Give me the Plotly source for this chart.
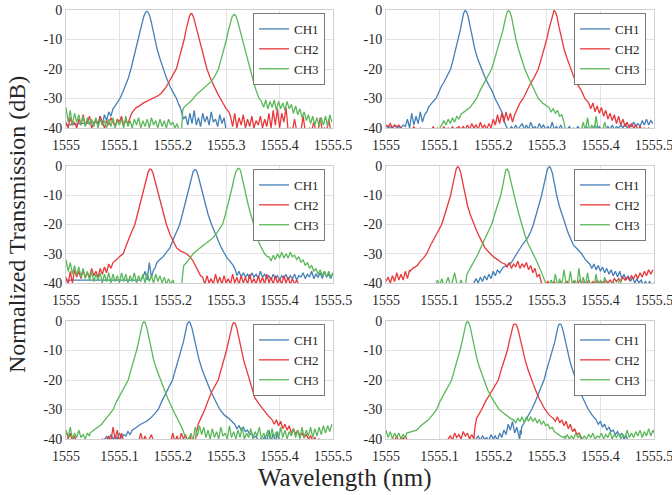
import plotly.graph_objects as go

# ---------------- data (wavelength offsets from 1555 nm, transmission in dB) ----------------
BASE_WL = 1555.0
NOISE_STEP = 0.004          # sampling step of the noisy floor readings
CHANNELS = ["CH1", "CH2", "CH3"]
X_TICKS = [1555.0, 1555.1, 1555.2, 1555.3, 1555.4, 1555.5]
X_TICK_TEXT = ["1555", "1555.1", "1555.2", "1555.3", "1555.4", "1555.5"]
Y_TICKS = [0, -10, -20, -30, -40]
Y_TICK_TEXT = ["0", "-10", "-20", "-30", "-40"]

# ---- panel 1 (top left) ----
P1_CH1_KNOTS = [(0.000, -39), (0.030, -38.5), (0.056, -38), (0.088, -33.5), (0.092, -32.5), (0.096, -31.5),
                (0.101, -30), (0.106, -28), (0.111, -26), (0.116, -23.5), (0.1216, -20), (0.126, -17), (0.130, -14),
                (0.135, -10), (0.139, -7), (0.143, -4), (0.146, -2), (0.149, -0.8), (0.151, -0.5), (0.153, -0.6),
                (0.156, -1.5), (0.159, -3.5), (0.1625, -6.5), (0.1665, -10), (0.171, -13.5), (0.176, -16.5),
                (0.182, -20), (0.188, -23), (0.195, -26), (0.201, -28), (0.207, -30), (0.211, -32), (0.214, -33),
                (0.217, -35), (0.220, -37), (0.300, -41), (0.500, -41)]
P1_CH1_NOISE = [(0.060, [-38.5, -36, -39, -35.5, -37.5, -34.5, -36]),
                (0.224, [-36, -39, -35, -38.5, -34, -39, -36.5, -39.5, -35, -38, -36, -39, -34.5, -38, -37,
                         -39.5, -35.5, -38.5, -36.5])]
P1_CH2_KNOTS = [(0.120, -36.5), (0.123, -35), (0.127, -34), (0.132, -33), (0.138, -32.5), (0.145, -31.5),
                (0.151, -31), (0.157, -30.5), (0.163, -30), (0.168, -29.5), (0.173, -29), (0.178, -28.3),
                (0.183, -27.3), (0.187, -26.2), (0.191, -25), (0.195, -23.8), (0.199, -22.6), (0.203, -21.3),
                (0.207, -19.8), (0.211, -17), (0.2155, -14), (0.2213, -10), (0.2245, -7), (0.228, -4), (0.231, -2.2),
                (0.2338, -1.2), (0.236, -1.3), (0.239, -2.5), (0.242, -4.5), (0.2455, -7), (0.2494, -10),
                (0.2535, -13), (0.258, -16), (0.264, -20), (0.270, -23), (0.277, -26), (0.283, -28), (0.289, -30),
                (0.295, -32), (0.300, -33.5), (0.305, -34.5)]
P1_CH2_NOISE = [(0.000, [-38, -40, -36.5, -39, -38, -40, -37, -39, -35.5, -39, -38, -36, -40, -38.5, -37, -39, -36,
                         -38, -40, -37.5, -39, -36.5, -38, -39.5, -37, -38, -36, -39, -37.5, -38.5]),
                (0.308, [-36, -39.5, -35, -40, -36.5, -39, -35.5, -40, -37, -39.5, -36, -40, -37.5, -39, -36, -40,
                         -37, -39.5, -35, -40, -34, -39, -33.5, -40, -35, -38, -33]),
                (0.416, [-41, -40, -41, -37, -41, -40.5, -41, -36, -41, -41, -40, -41, -38, -41, -41, -36.5, -41,
                         -40, -41, -37, -41, -41])]
P1_CH3_KNOTS = [(0.2165, -41), (0.2185, -34), (0.221, -33), (0.225, -32.3), (0.230, -31.5), (0.236, -30.5),
                (0.244, -28.7), (0.252, -27.5), (0.260, -26.3), (0.266, -25.3), (0.272, -24.2), (0.278, -22.7),
                (0.2855, -20), (0.290, -17), (0.2955, -13.5), (0.3005, -10), (0.304, -7), (0.308, -4), (0.311, -2.3),
                (0.3148, -1.5), (0.318, -1.9), (0.321, -3.5), (0.3245, -6), (0.330, -10), (0.335, -13.5),
                (0.340, -17), (0.345, -20), (0.350, -23.5), (0.3555, -27), (0.3616, -30), (0.366, -31)]
P1_CH3_NOISE = [(0.000, [-33, -38, -34, -39, -35, -38, -35.5, -39, -36, -39.5, -36.5, -39, -37, -39.5, -36.5, -40,
                         -37, -39, -37.5, -40, -37, -39.5, -36.5, -40, -37.5, -39, -37, -40, -36, -39.5, -37.5, -40,
                         -37, -39, -36.5, -40, -37.5, -39.5, -37, -40, -36.5, -39, -37.5, -40, -37, -39.5, -37.5, -40,
                         -37, -39, -38, -40, -38.5, -41]),
                (0.370, [-33, -30.5, -33.5, -31, -33, -30.5, -34, -31, -33.5, -31.5, -34, -31, -33.5, -32, -35,
                         -32.5, -35.5, -33.5, -36.5, -34.5, -37.5, -35.5, -38.5, -36, -39, -36.5, -39.5, -36.5, -39,
                         -36, -39.5, -35.5, -38])]

# ---- panel 2 (top right) ----
P2_CH1_KNOTS = [(0.0765, -34.5), (0.079, -33), (0.083, -32), (0.088, -31), (0.0933, -30), (0.098, -28),
                (0.103, -26), (0.108, -24.5), (0.114, -22.5), (0.1206, -20), (0.125, -17), (0.130, -13.5),
                (0.135, -10), (0.139, -6.5), (0.142, -3.5), (0.145, -1), (0.1474, -0.2), (0.150, -0.5), (0.153, -2),
                (0.1565, -5), (0.1617, -10), (0.166, -13.5), (0.171, -16.5), (0.1785, -20), (0.185, -23),
                (0.192, -25.5), (0.198, -27.5), (0.2034, -30), (0.208, -31.5), (0.212, -33), (0.216, -34.5),
                (0.219, -36), (0.222, -38.5), (0.226, -40)]
P2_CH1_NOISE = [(0.000, [-39, -40, -39.5, -40, -39, -40, -39.5, -40, -39, -39.5, -37, -40, -35, -39, -36, -38.5,
                         -34.5, -38, -35.5]),
                (0.230, [-40.5, -39.5, -40.5, -39, -40.5, -39.5, -38.5, -40.5, -39, -40.5, -38, -40, -39.5, -40.5,
                         -38.5, -40, -39, -40.5, -39.5, -40.5, -38, -40.5, -39.5, -40.5, -39, -40.5, -40, -40.5,
                         -39.5, -40.5, -40, -40.5, -39.5, -40.5, -40, -40.5, -39.5, -40.5, -40, -40.5, -39, -40.5,
                         -39.5, -40.5, -40, -40.5, -39.5, -40.5, -39, -40.5, -39.5, -40, -39, -40, -38.5, -40, -39,
                         -39.5, -38, -39.5, -38.5, -39.5, -37.5, -39, -37, -39, -37.5, -38.5])]
P2_CH2_KNOTS = [(0.240, -35.5), (0.2445, -33.5), (0.250, -31.5), (0.256, -30), (0.262, -27.5), (0.268, -25.5),
                (0.276, -23), (0.2842, -20), (0.289, -17), (0.295, -13.5), (0.2998, -10), (0.304, -6.5),
                (0.308, -3.5), (0.311, -1), (0.3134, -0.2), (0.316, -0.6), (0.319, -2.2), (0.3225, -5.5),
                (0.3277, -10), (0.3325, -13.5), (0.338, -16.5), (0.3445, -20), (0.351, -23), (0.358, -25.5),
                (0.365, -27.5), (0.371, -30), (0.378, -31.5)]
P2_CH2_NOISE = [(0.000, [-39, -39.5, -38.5, -40, -39, -39.5, -39, -40, -40.5, -41, -41, -40.5, -41, -39.5, -41, -41,
                         -40, -41, -41, -40.5, -41, -41, -39.5, -41, -40, -41, -41, -39.5, -41, -40, -41, -39.5, -41,
                         -40, -39.5, -40.5]),
                (0.144, [-39.5, -40.5, -39, -40.5, -38.5, -40, -39, -40.5, -38, -40, -39, -40.5, -38.5, -40]),
                (0.200, [-37, -39, -35.5, -38.5, -35, -38, -34.5, -37.5, -35, -38]),
                (0.382, [-33.5, -31.5, -34.5, -32.5, -35, -33, -36, -34, -37, -35, -37.5, -35.5, -38.5, -36, -39,
                         -37, -39.5, -38, -40, -38.5, -40, -39, -40.5, -39.5, -40.5, -40, -40.5, -40, -41, -40.5])]
P2_CH3_KNOTS = [(0.000, -41), (0.098, -41), (0.102, -39.5), (0.140, -35.3), (0.148, -34.3), (0.157, -33),
                (0.163, -31.5), (0.169, -30), (0.175, -27.5), (0.181, -25.5), (0.189, -23), (0.197, -20),
                (0.202, -17), (0.208, -13.5), (0.214, -10), (0.218, -7), (0.222, -3.5), (0.2255, -1), (0.2282, -0.2),
                (0.231, -0.6), (0.234, -2.2), (0.2375, -5.5), (0.2425, -10), (0.2475, -13.5), (0.2525, -16.5),
                (0.259, -20), (0.266, -23), (0.274, -26), (0.284, -30), (0.292, -31.5), (0.300, -32.5),
                (0.335, -41), (0.360, -41), (0.420, -41), (0.500, -41)]
P2_CH3_NOISE = [(0.104, [-39, -37.5, -39, -37, -38.5, -36.5, -38, -36, -37]),
                (0.304, [-33, -34.5, -33.5, -35, -34, -36, -35.5, -38]),
                (0.364, [-41, -38, -41, -36.5, -41, -39, -41, -36, -41, -40, -41, -38, -41])]

# ---- panel 3 (middle left) ----
P3_CH1_KNOTS = [(0.000, -39), (0.140, -39), (0.1665, -35), (0.170, -33), (0.176, -32), (0.182, -31),
                (0.188, -29.5), (0.1945, -28), (0.200, -25.5), (0.206, -23), (0.213, -20), (0.218, -16.5),
                (0.223, -13), (0.227, -10), (0.231, -7), (0.235, -4), (0.238, -2), (0.2413, -1.2), (0.244, -1.5),
                (0.247, -3), (0.2505, -5.5), (0.2556, -10), (0.260, -13), (0.266, -16.5), (0.2725, -20),
                (0.279, -23), (0.285, -25.5), (0.291, -28), (0.297, -30), (0.302, -31.5), (0.307, -32.5),
                (0.313, -34), (0.317, -35.5)]
P3_CH1_NOISE = [(0.144, [-38, -36, -39, -33, -38, -35.5]),
                (0.320, [-37.5, -36, -38, -36.5, -38, -37, -38.5, -36.5, -38, -37, -38.5, -36, -38, -37, -38.5,
                         -37.5, -39, -37, -38.5, -37.5, -39, -37.5, -38.5, -37, -39, -37.5, -38.5, -37, -39, -37.5,
                         -38, -36.5, -38.5, -37, -38, -36, -38.5, -37, -38, -36.5, -38.5, -36, -38, -37, -38.5,
                         -36.5])]
P3_CH2_KNOTS = [(0.092, -32.5), (0.095, -32), (0.100, -31), (0.107, -30), (0.112, -27.5), (0.117, -25),
                (0.123, -22.5), (0.129, -20), (0.134, -16.5), (0.139, -13), (0.1434, -10), (0.147, -7), (0.151, -4),
                (0.154, -2), (0.157, -1), (0.160, -1.2), (0.163, -2.5), (0.1665, -5), (0.1727, -10), (0.178, -13.5),
                (0.183, -16.5), (0.188, -20), (0.195, -23.5), (0.201, -26), (0.207, -28), (0.214, -29),
                (0.220, -29.5), (0.2257, -30), (0.232, -31), (0.238, -32.5), (0.2435, -34.5), (0.2475, -36),
                (0.252, -37.5), (0.450, -41), (0.500, -41)]
P3_CH2_NOISE = [(0.000, [-38, -40.5, -36, -40, -35.5, -38, -36, -38.5, -35.5, -38, -36.5, -38, -35, -37.5, -36,
                         -38, -35, -37, -34.5, -36.5, -33.5, -35, -33]),
                (0.256, [-38, -40.5, -37.5, -40, -38.5, -40.5, -37, -40, -38, -40.5, -37.5, -40, -38.5, -40.5, -37,
                         -40, -38, -40.5, -37.5, -40, -38, -40.5, -37, -40, -38.5, -40.5, -37.5, -40, -38, -40.5, -37,
                         -40, -38, -40.5, -37.5, -40, -38.5, -40.5, -37.5, -40, -38, -40.5, -38.5, -40.5, -39, -40.5,
                         -41])]
P3_CH3_KNOTS = [(0.2165, -41), (0.2185, -37), (0.2205, -34), (0.2257, -33), (0.232, -31.5), (0.238, -30),
                (0.2445, -29), (0.2506, -28), (0.258, -27), (0.2655, -26), (0.2705, -25.3), (0.2756, -24.5),
                (0.282, -23), (0.288, -21.5), (0.293, -20), (0.298, -17), (0.303, -13.5), (0.308, -10),
                (0.3115, -7), (0.315, -4), (0.3185, -1.8), (0.3223, -0.8), (0.3255, -1), (0.328, -2.5), (0.331, -5),
                (0.3367, -10), (0.3415, -13.5), (0.346, -16.5), (0.3516, -20), (0.356, -23), (0.361, -26),
                (0.366, -28), (0.372, -30), (0.377, -31)]
P3_CH3_NOISE = [(0.000, [-32, -36, -33, -37, -34, -37.5, -34.5, -38, -35, -38.5, -36, -39, -36, -39.5, -37, -39,
                         -36.5, -40, -37, -39.5, -36.5, -40, -37, -39.5, -37.5, -40, -36.5, -39.5, -37, -40, -37.5,
                         -39.5, -36.5, -40, -37.5, -39.5, -37, -40, -36.5, -39.5, -37.5, -40, -37, -39.5, -37.5, -40,
                         -38, -40.5, -38.5, -40.5, -39, -41, -41, -41]),
                (0.380, [-31, -32.5, -30.5, -32, -30, -31.5, -29.5, -31.5, -30, -31.5, -29.5, -31, -30.5, -32, -31,
                         -33, -32, -34, -33, -35, -34, -36, -35, -37, -35.5, -37.5, -36, -38, -36, -38, -36.5])]

# ---- panel 4 (middle right) ----
P4_CH1_KNOTS = [(0.000, -41), (0.155, -41), (0.219, -34.5), (0.226, -34), (0.234, -33), (0.2438, -30),
                (0.250, -28), (0.256, -26.5), (0.2645, -24.5), (0.270, -22.5), (0.2749, -20), (0.279, -17.5),
                (0.284, -14.5), (0.2904, -10), (0.294, -7), (0.298, -3.5), (0.301, -1.2), (0.3047, -0.2),
                (0.307, -0.6), (0.3105, -2.5), (0.314, -6), (0.3184, -10), (0.323, -13.5), (0.328, -16.5),
                (0.334, -20), (0.340, -23), (0.3495, -27), (0.357, -28.5), (0.365, -30), (0.372, -32),
                (0.380, -33.5)]
P4_CH1_NOISE = [(0.160, [-41, -40, -38.5, -40, -38, -39.5, -37.5, -39, -37, -38.5, -36, -37.5, -35.5, -36.5]),
                (0.384, [-35, -33.5, -35.5, -34, -36, -34.5, -36.5, -35, -37, -35.5, -37.5, -36, -38, -36, -38.5,
                         -37, -39, -37.5, -39.5, -38, -40, -38.5, -40, -39, -40.5, -39.5, -40.5, -39.5, -41, -40,
                         -41])]
P4_CH2_KNOTS = [(0.0448, -36), (0.050, -35), (0.0585, -34), (0.064, -32.5), (0.070, -31.5), (0.0759, -30),
                (0.082, -27.5), (0.088, -25.5), (0.095, -23), (0.1039, -20), (0.109, -17), (0.115, -13.5),
                (0.1206, -10), (0.124, -7), (0.128, -3.5), (0.131, -1), (0.1337, -0.2), (0.136, -0.6), (0.139, -2),
                (0.1425, -5), (0.1474, -10), (0.152, -13.5), (0.157, -16.5), (0.1642, -20), (0.171, -23),
                (0.178, -25.5), (0.1847, -28), (0.192, -29.5), (0.2002, -31), (0.208, -32), (0.215, -33),
                (0.222, -33.5)]
P4_CH2_NOISE = [(0.000, [-39.5, -38, -40, -37.5, -39.5, -36.5, -39, -37, -39, -36, -38.5, -35.5]),
                (0.226, [-34.5, -33, -35, -33.5, -34.5, -32.5, -35, -33.5, -34.5, -33, -35.5, -34, -36.5, -35, -38,
                         -37, -40]),
                (0.294, [-41, -40.5, -39.5, -41, -40, -39.5, -41, -40.5, -39.5, -41, -40, -39.5, -41, -40.5, -39.5,
                         -41, -40, -39, -40.5, -39.5, -40.5, -39, -40.5, -39.5, -40.5, -39, -40.5, -39.5, -40, -39,
                         -40, -39, -40, -38.5, -39.5, -38.5, -39.5, -38, -39, -38, -39, -37.5, -38.5, -37, -38.5,
                         -36.5, -38, -36, -37.5, -35.5, -37, -35.5])]
P4_CH3_KNOTS = [(0.000, -41), (0.090, -41), (0.149, -40), (0.151, -37), (0.157, -35), (0.164, -32.5),
                (0.172, -30), (0.179, -27), (0.188, -23.5), (0.197, -20), (0.202, -17), (0.208, -13.5), (0.214, -10),
                (0.218, -6.5), (0.221, -3), (0.2235, -1.3), (0.226, -1), (0.229, -2), (0.232, -4.5), (0.2355, -7.5),
                (0.2388, -10), (0.243, -13), (0.248, -16.5), (0.253, -20), (0.259, -23.5), (0.265, -26.5),
                (0.2749, -30), (0.281, -32.5), (0.287, -35), (0.292, -37.5), (0.2966, -40), (0.300, -41),
                (0.450, -41), (0.500, -41)]
P4_CH3_NOISE = [(0.092, [-41, -39, -41, -38.5, -41, -40, -38, -41, -39.5, -36.5, -40, -41, -39, -41, -40]),
                (0.304, [-41, -39, -41, -37, -41, -38.5, -41, -35.5, -40, -41, -36, -41, -39, -41, -35, -41, -38,
                         -41, -36.5, -41, -40, -41, -37, -41, -39, -41, -38, -41, -40, -41, -39.5, -41, -41, -38.5,
                         -41])]

# ---- panel 5 (bottom left) ----
P5_CH1_KNOTS = [(0.000, -41), (0.060, -41), (0.128, -36.5), (0.132, -36), (0.140, -35), (0.151, -34),
                (0.158, -33), (0.166, -31.5), (0.1727, -30), (0.180, -27), (0.187, -24.5), (0.1995, -20),
                (0.205, -16.5), (0.211, -13), (0.2163, -10), (0.220, -7), (0.224, -3.5), (0.227, -1), (0.230, -0.2),
                (0.2325, -0.6), (0.236, -2.5), (0.2395, -5.5), (0.2444, -10), (0.249, -13), (0.255, -16.5),
                (0.2619, -20), (0.269, -23), (0.277, -26), (0.288, -30), (0.297, -32), (0.305, -33), (0.313, -34.5),
                (0.410, -41), (0.500, -41)]
P5_CH1_NOISE = [(0.064, [-41, -40, -41, -39, -40.5, -38.5, -40, -39, -40, -38, -39.5, -38.5, -39, -37.5, -38.5, -37]),
                (0.316, [-35, -36.5, -35.5, -37, -36, -37.5, -37, -38.5, -38, -39.5, -39, -40.5, -40, -41, -39, -41,
                         -37, -41, -38, -41, -37.5, -41, -40, -41])]
P5_CH2_KNOTS = [(0.242, -41), (0.244, -38), (0.2475, -35), (0.253, -33), (0.260, -30), (0.266, -27), (0.273, -24),
                (0.285, -20), (0.290, -17), (0.295, -13.5), (0.3005, -10), (0.305, -6.5), (0.309, -3), (0.312, -1),
                (0.3142, -0.5), (0.317, -0.8), (0.320, -2.5), (0.324, -6), (0.3285, -10), (0.333, -13.5),
                (0.338, -16.5), (0.344, -20), (0.3535, -26), (0.361, -28), (0.369, -30), (0.378, -32),
                (0.386, -33.5)]
P5_CH2_NOISE = [(0.000, [-37, -40, -38, -41, -39, -41, -41, -41, -41, -41, -41, -41, -41, -41, -41, -41, -41, -41,
                         -40, -41, -39, -41, -36, -40, -37, -41, -38, -41, -41, -41, -41, -41, -41, -41, -41, -38,
                         -41, -39, -41, -40, -38.5, -41, -41, -41, -41, -41, -41, -41, -41, -41, -38, -41, -39, -41,
                         -38, -40, -38.5, -41, -39, -41]),
                (0.390, [-35, -33.5, -35.5, -34, -36.5, -35, -37, -35.5, -38, -36.5, -38.5, -37, -39, -38, -39.5,
                         -38.5, -40, -39, -40.5, -39.5, -41, -40, -41, -41, -41, -41, -41, -41])]
P5_CH3_KNOTS = [(0.0449, -38), (0.052, -37), (0.060, -36), (0.0667, -35), (0.073, -33.5), (0.080, -32),
                (0.0885, -30), (0.094, -27.5), (0.100, -25.5), (0.108, -23), (0.1166, -20), (0.121, -17),
                (0.127, -13.5), (0.1322, -10), (0.136, -7), (0.140, -3.5), (0.143, -1), (0.1459, -0.2),
                (0.148, -0.5), (0.151, -2), (0.1545, -5), (0.160, -10), (0.1645, -13.5), (0.170, -16.5),
                (0.177, -20), (0.183, -23), (0.190, -26), (0.200, -30), (0.207, -32.5), (0.213, -34.5),
                (0.218, -36.5), (0.2226, -39), (0.226, -40)]
P5_CH3_NOISE = [(0.000, [-37, -39.5, -36, -40, -38, -39.5, -37, -39.5, -38.5, -40, -38, -39]),
                (0.230, [-40, -38, -40.5, -36, -39, -35.5, -38.5, -36, -39.5, -37, -40, -36.5, -39.5, -37.5, -40,
                         -36, -39, -38, -40, -35.5, -39.5, -37.5, -40, -37, -39.5, -36, -40, -38, -39.5, -36.5, -40,
                         -37.5, -39, -36, -40, -38, -39.5, -37, -40, -36.5, -39.5, -37.5, -40, -36, -39.5, -37, -40,
                         -37.5, -39, -36.5, -39.5, -37, -40, -36, -39.5, -37, -39, -36, -39.5, -36.5, -39, -36,
                         -38.5, -35.5, -38, -35.5, -37.5, -35])]

# ---- panel 6 (bottom right) ----
P6_CH1_KNOTS = [(0.000, -41), (0.165, -41), (0.2495, -40.5), (0.2505, -37), (0.253, -36), (0.258, -34.5),
                (0.2624, -33), (0.267, -31.5), (0.2718, -30), (0.278, -27.5), (0.284, -25), (0.2948, -20),
                (0.300, -16.5), (0.306, -13), (0.311, -10), (0.315, -7), (0.319, -3.5), (0.322, -1.3),
                (0.3246, -1), (0.327, -1.3), (0.330, -3), (0.3335, -6), (0.3383, -10), (0.343, -13.5),
                (0.348, -16.5), (0.3539, -20), (0.360, -23), (0.367, -26), (0.3775, -30), (0.385, -32),
                (0.392, -33.5), (0.470, -41), (0.500, -41)]
P6_CH1_NOISE = [(0.168, [-40, -39, -40.5, -39, -40, -39.5, -40.5, -38.5, -40, -39, -40.5, -38, -39.5, -37, -38.5,
                         -35, -37, -34, -38, -36, -39, -38.5]),
                (0.396, [-35, -34, -36, -35, -37, -36, -37.5, -37, -38.5, -37.5, -39, -38, -40, -39, -40.5, -41])]
P6_CH2_KNOTS = [(0.164, -40), (0.166, -36), (0.169, -33), (0.174, -31.5), (0.1785, -30), (0.185, -27.5),
                (0.192, -25.5), (0.200, -23), (0.2096, -20), (0.215, -16.5), (0.221, -13), (0.2264, -10),
                (0.230, -7), (0.234, -3.5), (0.2375, -1.3), (0.2407, -1), (0.2435, -1.3), (0.2465, -3),
                (0.250, -6), (0.255, -10), (0.260, -13.5), (0.265, -16.5), (0.2718, -20), (0.278, -23),
                (0.285, -26), (0.2966, -30), (0.305, -32), (0.312, -33), (0.370, -41), (0.500, -41)]
P6_CH2_NOISE = [(0.000, [-41, -41, -41, -41, -40.5, -39, -41, -39.5, -40, -39, -40.5, -41, -41, -41, -41, -41, -41,
                         -41, -41, -41, -41, -41, -41, -41, -41, -41, -41, -41, -41, -40, -39, -40.5, -38, -39.5,
                         -38.5, -40, -37.5, -39, -38, -40, -38.5]),
                (0.316, [-34, -32.5, -34.5, -33.5, -35.5, -34, -36.5, -35, -37.5, -36.5, -38.5, -38, -40])]
P6_CH3_KNOTS = [(0.0386, -38), (0.048, -37.5), (0.0572, -37), (0.065, -35.5), (0.072, -34.5), (0.079, -33.5),
                (0.086, -32), (0.0945, -30), (0.100, -27.5), (0.107, -25), (0.1225, -20), (0.127, -17),
                (0.133, -13.5), (0.138, -10), (0.142, -7), (0.146, -3.5), (0.149, -1), (0.1517, -0.2),
                (0.154, -0.5), (0.157, -2), (0.1605, -5), (0.166, -10), (0.1705, -13.5), (0.176, -16.5),
                (0.183, -20), (0.190, -23.5), (0.197, -26), (0.2034, -28), (0.211, -30), (0.218, -31),
                (0.2251, -32), (0.232, -33), (0.238, -33.5)]
P6_CH3_NOISE = [(0.000, [-37, -39.5, -37.5, -40, -38, -39.5, -38, -40, -38.5, -39.5]),
                (0.242, [-34.5, -33, -34, -32.5, -34.5, -32.5, -34, -32.5, -34, -33, -34.5, -33.5, -35, -34, -35.5,
                         -35, -36.5, -36, -37.5, -38, -38.5, -39, -39.5, -39]),
                (0.334, [-40, -38.5, -40, -39, -40, -38, -39.5, -38.5, -40, -39, -40, -38.5, -39.5, -38, -40, -39,
                         -39.5, -38, -40, -38.5, -39.5, -37.5, -40, -38.5, -39.5, -38, -40, -38.5, -39.5, -37, -39.5,
                         -38, -39.5, -37.5, -39, -37, -39.5, -37.5, -39, -36.5, -39, -37, -38.5])]

PANELS = [
    [(P1_CH1_KNOTS, P1_CH1_NOISE), (P1_CH2_KNOTS, P1_CH2_NOISE), (P1_CH3_KNOTS, P1_CH3_NOISE)],
    [(P2_CH1_KNOTS, P2_CH1_NOISE), (P2_CH2_KNOTS, P2_CH2_NOISE), (P2_CH3_KNOTS, P2_CH3_NOISE)],
    [(P3_CH1_KNOTS, P3_CH1_NOISE), (P3_CH2_KNOTS, P3_CH2_NOISE), (P3_CH3_KNOTS, P3_CH3_NOISE)],
    [(P4_CH1_KNOTS, P4_CH1_NOISE), (P4_CH2_KNOTS, P4_CH2_NOISE), (P4_CH3_KNOTS, P4_CH3_NOISE)],
    [(P5_CH1_KNOTS, P5_CH1_NOISE), (P5_CH2_KNOTS, P5_CH2_NOISE), (P5_CH3_KNOTS, P5_CH3_NOISE)],
    [(P6_CH1_KNOTS, P6_CH1_NOISE), (P6_CH2_KNOTS, P6_CH2_NOISE), (P6_CH3_KNOTS, P6_CH3_NOISE)],
]

# ---------------- styling ----------------
COLORS = ["#457fb6", "#e8383a", "#5bb85a"]
FONT = "serif"
W, H = 672, 495
COL_X = [(66, 333), (386, 654)]       # pixel extents of plot areas
ROW_Y = [(10, 128), (166, 283), (321, 439)]


def series(knots, noise):
    pts = list(knots)
    for start, ys in noise:
        pts += [(start + i * NOISE_STEP, y) for i, y in enumerate(ys)]
    pts.sort(key=lambda p: p[0])
    return [BASE_WL + p[0] for p in pts], [p[1] for p in pts]


fig = go.Figure()
layout = dict(width=W, height=H, margin=dict(l=0, r=0, t=0, b=0, autoexpand=False),
              paper_bgcolor="white", plot_bgcolor="white",
              font=dict(family=FONT, size=13, color="#262626"), showlegend=True)

for k, panel in enumerate(PANELS):
    r, c = divmod(k, 2)
    n = k + 1
    sx = "" if n == 1 else str(n)
    lg = "legend" if n == 1 else f"legend{n}"
    for ci, (knots, noise) in enumerate(panel):
        xs, ys = series(knots, noise)
        fig.add_trace(go.Scatter(x=xs, y=ys, mode="lines", name=CHANNELS[ci],
                                 line=dict(color=COLORS[ci], width=1.3),
                                 xaxis="x" + sx, yaxis="y" + sx, legend=lg))
    x0, x1 = COL_X[c]
    y0, y1 = ROW_Y[r]
    layout["xaxis" + sx] = dict(domain=[x0 / W, x1 / W], range=[1555.0, 1555.5], anchor="y" + sx,
                                automargin=False, tickvals=X_TICKS, ticktext=X_TICK_TEXT, showgrid=True,
                                gridcolor="#e3e3e3", gridwidth=1, showline=True, mirror=True,
                                linecolor="#cfcfcf", linewidth=1, zeroline=False, ticks="",
                                ticklabelstandoff=4, ticklabeloverflow="allow",
                                tickfont=dict(family=FONT, size=14, color="#262626"))
    layout["yaxis" + sx] = dict(domain=[1 - y1 / H, 1 - y0 / H], range=[-40, 0], anchor="x" + sx,
                                automargin=False, tickvals=Y_TICKS, ticktext=Y_TICK_TEXT, showgrid=True,
                                gridcolor="#e3e3e3", gridwidth=1, showline=True, mirror=True,
                                linecolor="#cfcfcf", linewidth=1, zeroline=False, ticks="",
                                ticklabeloverflow="allow",
                                tickfont=dict(family=FONT, size=14, color="#262626"))
    layout[lg] = dict(x=(x1 - 8) / W, y=1 - (y0 + 3) / H, xanchor="right", yanchor="top",
                      bgcolor="white", bordercolor="#7a7a7a", borderwidth=1,
                      font=dict(family=FONT, size=13, color="#262626"), itemwidth=30, tracegroupgap=0)

layout["annotations"] = [
    dict(text="Wavelength (nm)", x=345 / W, y=1 - 478 / H, xref="paper", yref="paper", showarrow=False,
         font=dict(family=FONT, size=25, color="#262626"), xanchor="center", yanchor="middle"),
    dict(text="Normalized Transmission (dB)", x=17 / W, y=1 - 225 / H, xref="paper", yref="paper",
         showarrow=False, textangle=-90, font=dict(family=FONT, size=24, color="#262626"),
         xanchor="center", yanchor="middle"),
]
fig.update_layout(**layout)
fig.write_html("out.html", config={"displayModeBar": False},
               post_script="document.body.style.margin='0';document.body.style.padding='0';")
